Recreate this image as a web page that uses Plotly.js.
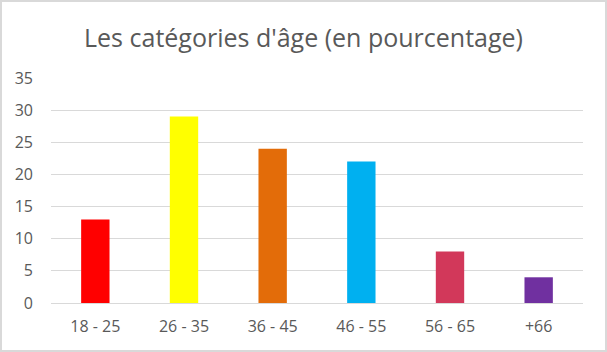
<!DOCTYPE html>
<html><head><meta charset="utf-8">
<script src="https://cdn.plot.ly/plotly-3.0.1.min.js"></script>
<style>
html,body{margin:0;padding:0;background:#fff;}
#wrap{position:absolute;left:0;top:0;width:603px;height:348px;border:2px solid #d9d9d9;background:#fff;}
#chart{position:absolute;left:-2px;top:-2px;width:607px;height:352px;}
</style></head>
<body>
<div id="wrap"><div id="chart"></div></div>
<script>
const categories = ["18 - 25", "26 - 35", "36 - 45", "46 - 55", "56 - 65", "+66"];
const values = [13, 29, 24, 22, 8, 4];
const barColors = ["#FF0000", "#FFFF00", "#E36C09", "#00B0F0", "#D2385A", "#7030A0"];
const yTicks = [0, 5, 10, 15, 20, 25, 30, 35];

const trace = {
  type: "bar",
  x: categories,
  y: values,
  marker: {color: barColors},
  hoverinfo: "skip"
};
const layout = {
  width: 607, height: 352,
  margin: {l: 51, r: 24, t: 78, b: 49},
  paper_bgcolor: "rgba(0,0,0,0)",
  plot_bgcolor: "rgba(0,0,0,0)",
  bargap: 0.68,
  showlegend: false,
  title: {text: "Les catégories d'âge (en pourcentage)", font: {family: "Open Sans, sans-serif", size: 25, color: "#595959"}, x: 0.5, xanchor: "center", y: 0.89, yanchor: "middle"},
  font: {family: "Open Sans, sans-serif", size: 16, color: "#595959"},
  xaxis: {type: "category", showgrid: false, showline: false, ticks: "", ticklen: 0, ticklabelstandoff: 12, tickfont: {size: 16, color: "#595959"}, fixedrange: true},
  yaxis: {range: [0, 35], autorange: false, tickvals: yTicks, ticktext: yTicks.map(String), showgrid: true, gridcolor: "#d9d9d9", gridwidth: 1, zeroline: true, zerolinecolor: "#d9d9d9", zerolinewidth: 1, showline: false, ticks: "", ticklabelstandoff: 17, tickfont: {size: 16, color: "#595959"}, fixedrange: true}
};
Plotly.newPlot("chart", [trace], layout, {displayModeBar: false, staticPlot: true});
</script>
</body></html>
